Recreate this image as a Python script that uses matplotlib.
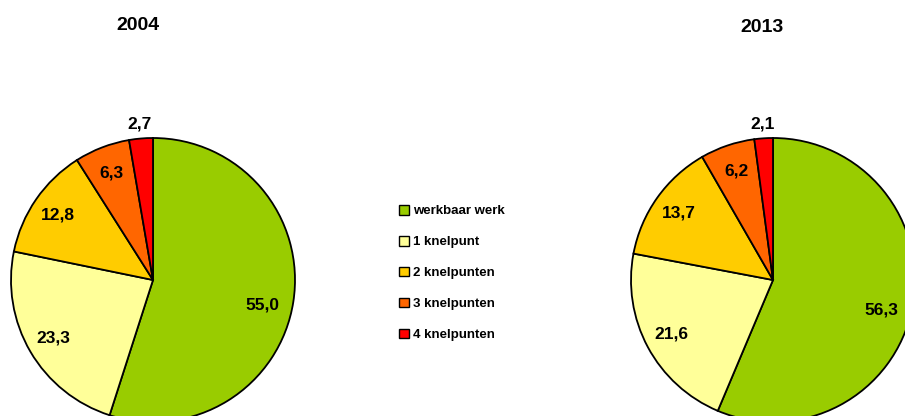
import numpy as np
import matplotlib
matplotlib.use("Agg")
import matplotlib.pyplot as plt
from matplotlib.patches import Patch

plt.rcParams['font.family'] = ['Liberation Sans', 'DejaVu Sans']
plt.rcParams['font.weight'] = 'bold'

categories = ['werkbaar werk', '1 knelpunt', '2 knelpunten', '3 knelpunten', '4 knelpunten']
colors = ['#99CC00', '#FFFF99', '#FFCC00', '#FF6600', '#FF0000']
years = ['2004', '2013']
values_2004 = [55.0, 23.3, 12.8, 6.3, 2.7]
values_2013 = [56.3, 21.6, 13.7, 6.2, 2.1]

W, H = 905, 416
fig = plt.figure(figsize=(W / 100, H / 100), dpi=100)
fig.patch.set_facecolor('white')

R = 142  # pie radius in pixels
centers = [(153, 280), (773, 280)]
title_pos = [(138, 26), (762, 27)]


def draw_pie(values, center, title, tpos):
    cx, cy = center
    ax = fig.add_axes([(cx - R) / W, (H - cy - R) / H, 2 * R / W, 2 * R / H])
    ax.set_axis_off()
    wedges, _ = ax.pie(values, colors=colors, startangle=90, counterclock=False,
                       radius=1.0,
                       wedgeprops=dict(edgecolor='black', linewidth=1.3))
    for w in wedges:
        w.set_clip_on(False)
    ax.set_xlim(-1, 1)
    ax.set_ylim(-1, 1)
    total = sum(values)
    cum = 0.0
    for i, v in enumerate(values):
        mid = cum + v / 2
        cum += v
        ang = np.deg2rad(90 - 360 * mid / total)
        if i == 0:
            ang -= np.deg2rad(4)
            d = 0.79
        elif v < 5:
            d = 1.1
        else:
            d = 0.81
        ax.text(d * np.cos(ang), d * np.sin(ang), f"{v:.1f}".replace('.', ','),
                ha='center', va='center', fontsize=12.5, fontweight='bold',
                clip_on=False)
    fig.text(tpos[0] / W, 1 - tpos[1] / H, title, ha='center', va='center',
             fontsize=14, fontweight='bold')


draw_pie(values_2004, centers[0], years[0], title_pos[0])
draw_pie(values_2013, centers[1], years[1], title_pos[1])

handles = [Patch(facecolor=c, edgecolor='black', linewidth=1.0) for c in colors]
fig.legend(handles, categories, loc='upper left',
           bbox_to_anchor=(399 / W, 1 - 205 / H), bbox_transform=fig.transFigure,
           frameon=False, borderpad=0, borderaxespad=0,
           handlelength=0.75, handleheight=0.75, handletextpad=0.3,
           labelspacing=1.4, prop=dict(size=9.5, weight='bold'))

fig.savefig('out.png', dpi=100, facecolor='white')
